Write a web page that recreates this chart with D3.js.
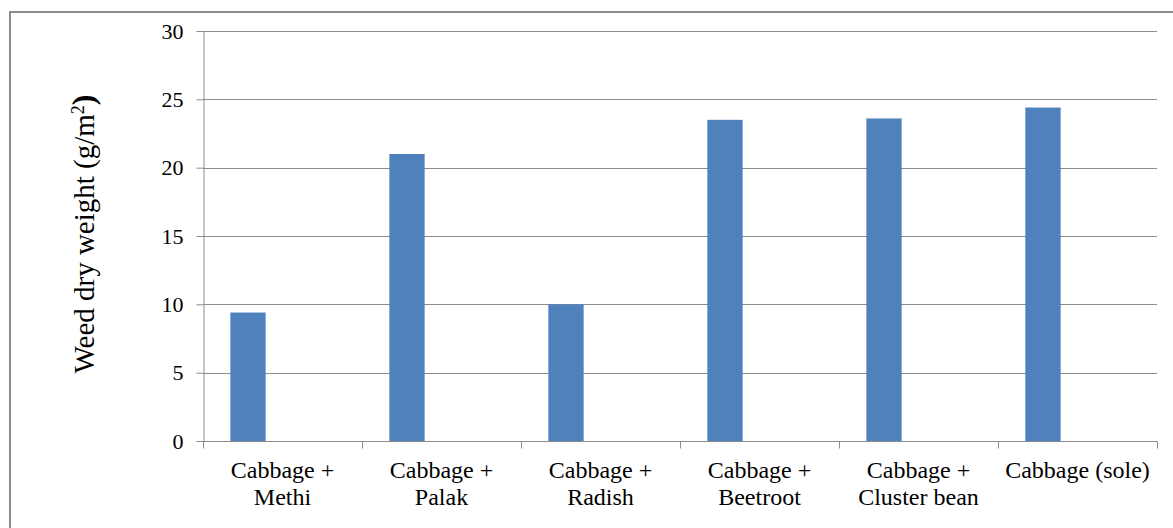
<!DOCTYPE html>
<html>
<head>
<meta charset="utf-8">
<script src="https://cdn.jsdelivr.net/npm/d3@7/dist/d3.min.js"></script>
<style>
  html, body { margin: 0; padding: 0; background: #fff; }
  svg { display: block; }
  text { fill: #000; }
</style>
</head>
<body>
<svg id="chart" width="1173" height="528"></svg>
<script>
// Weed dry weight by cropping system
const categories = [
  ["Cabbage +", "Methi"],
  ["Cabbage +", "Palak"],
  ["Cabbage +", "Radish"],
  ["Cabbage +", "Beetroot"],
  ["Cabbage +", "Cluster bean"],
  ["Cabbage (sole)"]
];
const weedDryWeight = [9.4, 21.0, 10.0, 23.5, 23.6, 24.4];
const yTicks = [0, 5, 10, 15, 20, 25, 30];

const svg = d3.select("#chart");
const W = 1173, H = 528;
const plot = { left: 203, right: 1157, top: 31, bottom: 441 };
const serif = "Liberation Serif, Tinos, Times New Roman, Times, DejaVu Serif, serif";

// Outer chart frame
svg.append("rect")
  .attr("x", 10).attr("y", 12)
  .attr("width", W + 10).attr("height", H + 10)
  .attr("fill", "none").attr("stroke", "#8a8a8a").attr("stroke-width", 2);

const x = d3.scaleBand()
  .domain(d3.range(categories.length))
  .range([plot.left, plot.right])
  .paddingInner(0).paddingOuter(0);

const y = d3.scaleLinear().domain([0, 30]).range([plot.bottom, plot.top]);

// Horizontal gridlines
svg.append("g")
  .selectAll("line")
  .data(yTicks.filter(d => d > 0))
  .join("line")
  .attr("x1", plot.left).attr("x2", plot.right)
  .attr("y1", d => Math.round(y(d)) + 0.5).attr("y2", d => Math.round(y(d)) + 0.5)
  .attr("stroke", "#8c8c8c").attr("stroke-width", 1);

// Bars: first of three slots within each category band
const bw = x.bandwidth();
svg.append("g")
  .selectAll("rect")
  .data(weedDryWeight)
  .join("rect")
  .attr("x", (d, i) => x(i) + bw * 0.172)
  .attr("width", bw * 0.222)
  .attr("y", d => y(d))
  .attr("height", d => y(0) - y(d))
  .attr("fill", "#4f81bd");

// Y axis
const yAxis = d3.axisLeft(y).tickValues(yTicks).tickSize(7).tickPadding(13).tickSizeOuter(0);
const gy = svg.append("g")
  .attr("transform", `translate(${plot.left + 0.5},0)`)
  .call(yAxis);
gy.attr("font-family", serif).attr("font-size", 22);
gy.select(".domain").attr("stroke", "#8c8c8c");
gy.selectAll(".tick line").attr("stroke", "#8c8c8c");
gy.selectAll(".tick text").attr("fill", "#000");

// X axis with tick marks at band boundaries
const gx = svg.append("g").attr("transform", `translate(0,${plot.bottom + 0.5})`);
gx.append("line")
  .attr("x1", plot.left).attr("x2", plot.right + 0.5)
  .attr("stroke", "#8c8c8c");
gx.selectAll(".bnd")
  .data(d3.range(categories.length + 1))
  .join("line")
  .attr("class", "bnd")
  .attr("x1", i => Math.round(plot.left + i * bw) + 0.5)
  .attr("x2", i => Math.round(plot.left + i * bw) + 0.5)
  .attr("y1", 0).attr("y2", 7)
  .attr("stroke", "#8c8c8c");

// Category labels
const labels = svg.append("g").attr("font-family", serif).attr("font-size", 24);
categories.forEach((lines, i) => {
  const t = labels.append("text")
    .attr("x", x(i) + bw / 2)
    .attr("y", 478)
    .attr("text-anchor", "middle");
  lines.forEach((ln, k) => {
    t.append("tspan")
      .attr("x", x(i) + bw / 2)
      .attr("dy", k === 0 ? 0 : 27)
      .text(ln);
  });
});

// Y axis title
const title = svg.append("text")
  .attr("transform", "translate(94,234) rotate(-90)")
  .attr("text-anchor", "middle")
  .attr("font-family", serif)
  .attr("font-size", 29);
title.append("tspan").text("Weed dry weight (g/m");
title.append("tspan").attr("baseline-shift", "super").attr("font-size", 18).text("2");
title.append("tspan").attr("font-weight", "bold").attr("font-size", 32).text(")");
</script>
</body>
</html>
